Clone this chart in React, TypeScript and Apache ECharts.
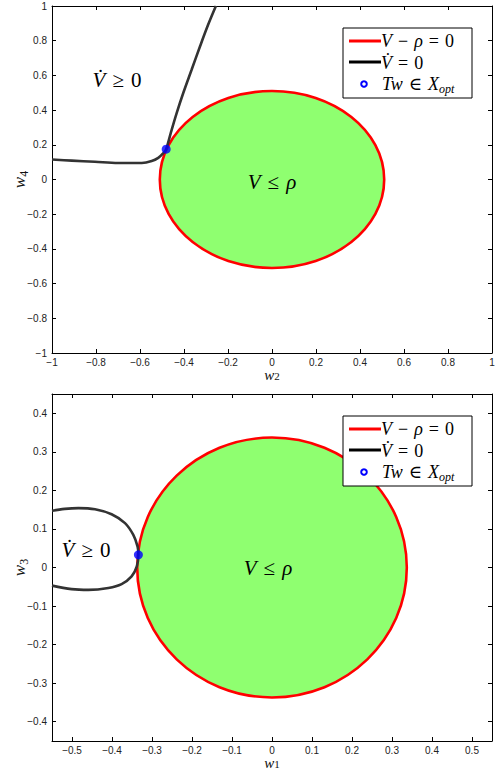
import React, { useEffect, useRef } from 'react';
import * as echarts from 'echarts';

// ---- data ----
const topXRange = [-1, 1];
const topYRange = [-1, 1];
const topTickStep = 0.2;
const bottomXRange = [-0.55, 0.55];
const bottomYRange = [-0.45, 0.45];

// V - rho = 0 level sets: [centerX, centerY, radius]
const topCircle = [0, 0, 0.51];
const bottomCircle = [0, 0, 0.337];

// Vdot = 0 curve (top panel, w2 vs w4)
const topCurveX = [-1, -0.91, -0.805, -0.699, -0.592, -0.547, -0.517, -0.494, -0.481, -0.46, -0.433, -0.403, -0.365, -0.327, -0.29, -0.255];
const topCurveY = [0.115, 0.109, 0.102, 0.095, 0.095, 0.106, 0.125, 0.152, 0.175, 0.269, 0.384, 0.5, 0.634, 0.768, 0.893, 1.0];

// Vdot = 0 curve (bottom panel, w1 vs w3)
const bottomLoopX = [-0.55, -0.518, -0.484, -0.4425, -0.401, -0.3675, -0.347, -0.336, -0.334, -0.338, -0.351, -0.376, -0.409, -0.459, -0.501, -0.55];
const bottomLoopY = [0.147, 0.152, 0.154, 0.151, 0.138, 0.115, 0.085, 0.054, 0.033, 0.003, -0.023, -0.043, -0.053, -0.058, -0.056, -0.047];

// optimal points Tw in X_opt
const topOptPoint = [-0.481, 0.175];
const bottomOptPoint = [-0.334, 0.033];

const SERIF = "'Liberation Serif', 'DejaVu Serif', serif";
const SANS = "'Liberation Sans', Arial, Helvetica, sans-serif";

const mathRich = (size: number, opPad: number, lh?: number) => {
  const L = lh || size + 4;
  return {
    i: { fontFamily: SERIF, fontStyle: 'italic', fontSize: size, color: '#111', lineHeight: L },
    n: { fontFamily: SERIF, fontSize: size, color: '#111', lineHeight: L },
    o: { fontFamily: SERIF, fontSize: size, color: '#111', lineHeight: L, padding: [0, opPad, 0, opPad] },
    s: { fontFamily: SERIF, fontStyle: 'italic', fontSize: Math.round(size * 0.65), color: '#111', verticalAlign: 'bottom', lineHeight: Math.round(size * 0.65) },
    sn: { fontFamily: SERIF, fontSize: Math.round(size * 0.7), color: '#111', verticalAlign: 'bottom', lineHeight: Math.round(size * 0.7) },
  };
};

const fmt = (step: number) => (v: number) => {
  const k = v / step;
  if (Math.abs(k - Math.round(k)) > 1e-6) return '';
  const r = Math.round(v * 100) / 100;
  return String(r).replace('-', '\u2212');
};

const makeAxes = (gi: number, xr: number[], yr: number[], step: number | null, xName: string, yName: string) => {
  const common = {
    gridIndex: gi,
    type: 'value' as const,
    splitLine: { show: false },
    axisLine: { show: true, onZero: false, lineStyle: { color: '#000', width: 1 } },
    axisTick: { show: true, inside: true, length: 4, lineStyle: { color: '#000', width: 1 } },
  };
  const xLab = { fontFamily: SANS, fontSize: 10, lineHeight: 10, color: '#222', margin: 4, formatter: fmt(step || 0.1), showMinLabel: true, showMaxLabel: true };
  const yLab = { fontFamily: SANS, fontSize: 10, color: '#222', margin: 5, formatter: fmt(step || 0.1), showMinLabel: true, showMaxLabel: true };
  const stepOpts = step ? { interval: step } : { splitNumber: 11 };
  const xs = [
    { ...common, ...stepOpts, min: xr[0], max: xr[1], position: 'bottom', axisLabel: xLab,
      name: xName, nameLocation: 'middle', nameGap: 16, nameMoveOverlap: false, nameTextStyle: { rich: mathRich(15, 0, 12) } },
    { ...common, ...stepOpts, min: xr[0], max: xr[1], position: 'top', axisLabel: { show: false } },
  ];
  const ys = [
    { ...common, ...stepOpts, min: yr[0], max: yr[1], position: 'left', axisLabel: yLab,
      name: yName, nameLocation: 'middle', nameGap: 22, nameMoveOverlap: false, nameRotate: 90, nameTextStyle: { rich: mathRich(17, 0) } },
    { ...common, ...stepOpts, min: yr[0], max: yr[1], position: 'right', axisLabel: { show: false } },
  ];
  return { xs, ys };
};

const ellipseSeries = (axisIdx: number, circle: number[]) => ({
  type: 'custom',
  xAxisIndex: axisIdx,
  yAxisIndex: axisIdx,
  silent: true,
  z: 2,
  data: [circle],
  renderItem: (_p: any, api: any) => {
    const c = api.coord([api.value(0), api.value(1)]);
    const s = api.size([api.value(2), api.value(2)]);
    return {
      type: 'ellipse',
      shape: { cx: c[0], cy: c[1], rx: s[0], ry: s[1] },
      style: { fill: '#8fff70', stroke: '#ff0000', lineWidth: 2.6 },
    };
  },
});

const curveSeries = (axisIdx: number, xs: number[], ys: number[]) => ({
  type: 'line',
  xAxisIndex: axisIdx,
  yAxisIndex: axisIdx,
  data: xs.map((x, i) => [x, ys[i]]),
  showSymbol: false,
  smooth: 0.35,
  silent: true,
  z: 3,
  lineStyle: { color: '#333', width: 2.6 },
});

const pointSeries = (axisIdx: number, p: number[]) => ({
  type: 'scatter',
  xAxisIndex: axisIdx,
  yAxisIndex: axisIdx,
  data: [p],
  symbol: 'circle',
  symbolSize: 9,
  silent: true,
  z: 4,
  itemStyle: { color: '#0000ff' },
});

const legendGraphic = (id: string, top: number) => {
  const r = mathRich(18, 6);
  return {
    type: 'group',
    id,
    x: 343,
    y: top,
    z: 100,
    children: [
      { type: 'rect', id: id + '-box', z: 100, shape: { x: 0, y: 0, width: 129, height: 70 }, style: { fill: '#fff', stroke: '#000', lineWidth: 1 } },
      { type: 'line', id: id + '-l1', z: 101, shape: { x1: 6, y1: 13, x2: 38, y2: 13 }, style: { stroke: '#ff0000', lineWidth: 3 } },
      { type: 'text', id: id + '-t1', z: 101, x: 38, y: 13, style: { text: '{i|V}{o|\u2212}{i|\u03c1}{o|=}{n|0}', rich: r, verticalAlign: 'middle' } },
      { type: 'line', id: id + '-l2', z: 101, shape: { x1: 6, y1: 34, x2: 38, y2: 34 }, style: { stroke: '#000', lineWidth: 3 } },
      { type: 'text', id: id + '-t2', z: 101, x: 38, y: 35, style: { text: '{i|V\u0307}{o|=}{n|0}', rich: r, verticalAlign: 'middle' } },
      { type: 'circle', id: id + '-c3', z: 101, shape: { cx: 21, cy: 56, r: 2.8 }, style: { fill: '#fff', stroke: '#0000ff', lineWidth: 2 } },
      { type: 'text', id: id + '-t3', z: 101, x: 39, y: 56, style: { text: '{i|Tw}{o|\u2208}{i|X}{s|opt}', rich: r, verticalAlign: 'middle' } },
    ],
  };
};

const regionText = (id: string, x: number, y: number, text: string) => ({
  type: 'text',
  id,
  x,
  y,
  z: 10,
  style: { text, rich: mathRich(21, 7), align: 'center', verticalAlign: 'middle' },
});

export default function App() {
  const ref = useRef<HTMLDivElement>(null);
  useEffect(() => {
    if (!ref.current) return;
    const chart = echarts.init(ref.current, null, { renderer: 'svg' });
    const a0 = makeAxes(0, topXRange, topYRange, topTickStep, '{i|w}{sn|2}', '{i|w}{sn|4}');
    const a1 = makeAxes(1, bottomXRange, bottomYRange, null, '{i|w}{sn|1}', '{i|w}{sn|3}');
    chart.setOption({
      animation: false,
      backgroundColor: '#fff',
      grid: [
        { left: 52, top: 6, width: 440, height: 347, containLabel: false, outerBoundsMode: 'none' },
        { left: 52, top: 394, width: 440, height: 347, containLabel: false, outerBoundsMode: 'none' },
      ],
      xAxis: [...a0.xs, ...a1.xs],
      yAxis: [...a0.ys, ...a1.ys],
      series: [
        ellipseSeries(0, topCircle),
        curveSeries(0, topCurveX, topCurveY),
        pointSeries(0, topOptPoint),
        ellipseSeries(2, bottomCircle),
        curveSeries(2, bottomLoopX, bottomLoopY),
        pointSeries(2, bottomOptPoint),
      ],
      graphic: [
        legendGraphic('lg1', 28),
        legendGraphic('lg2', 416),
        regionText('rt1', 117, 80, '{i|V\u0307}{o|\u2265}{n|0}'),
        regionText('rt2', 272, 182, '{i|V}{o|\u2264}{i|\u03c1}'),
        regionText('rt3', 86, 550, '{i|V\u0307}{o|\u2265}{n|0}'),
        regionText('rt4', 268, 568, '{i|V}{o|\u2264}{i|\u03c1}'),
      ],
    });
    return () => chart.dispose();
  }, []);
  return <div ref={ref} style={{ position: 'fixed', left: 0, top: 0, width: 497, height: 772, background: '#fff' }} />;
}
